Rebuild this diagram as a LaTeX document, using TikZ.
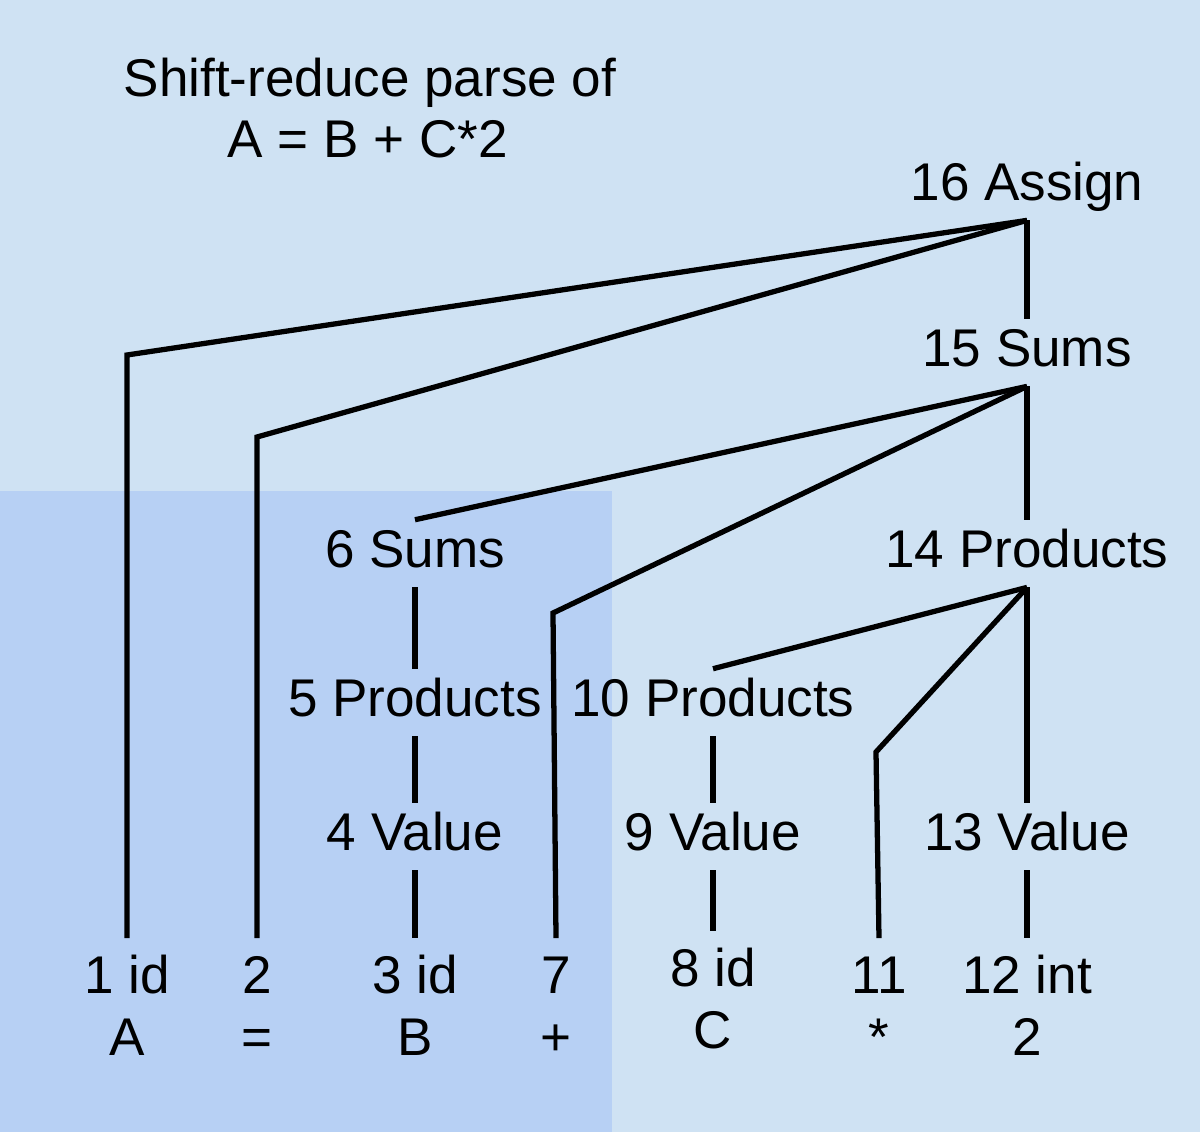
\documentclass[tikz,border=0pt]{standalone}
\usepackage{fontspec}
\setmainfont{Liberation Sans}
\usepackage{xcolor}
\definecolor{srlight}{RGB}{207,226,243}
\definecolor{srdark}{RGB}{183,208,244}
\usepackage{tikz}
\usetikzlibrary{positioning}

\begin{document}
\begin{tikzpicture}[x=0.02cm, y=-0.02cm,
    lbl/.style={anchor=base, font=\fontsize{30.2}{36}\selectfont, inner xsep=2pt,
                inner ysep=5.7pt, text height=21pt, text depth=5.7pt},
    leaf/.style={lbl, inner ysep=10pt},
    edge/.style={line width=3pt, line join=miter}]

% === Background ===
\fill[srlight] (0,0) rectangle (1200,1132);
\fill[srdark] (0,491) rectangle (612,1132);

% === Title ===
\node[lbl] (title1) at (370,97) {Shift-reduce parse of};
\node[lbl] (title2) at (368,157) {A = B + C*2};

% === Inner nodes ===
\node[lbl] (assign16) at (1027,200) {16 Assign};
\node[lbl] (sums15)   at (1027,366) {15 Sums};
\node[lbl] (prod14)   at (1027,567) {14 Products};
\node[lbl] (sums6)    at (415,567)  {6 Sums};
\node[lbl] (prod5)    at (415,716)  {5 Products};
\node[lbl] (prod10)   at (713,716)  {10 Products};
\node[lbl] (val4)     at (415,850)  {4 Value};
\node[lbl] (val9)     at (713,850)  {9 Value};
\node[lbl] (val13)    at (1027,850) {13 Value};

% === Leaves (tokens) ===
\node[leaf] (id1)    at (127,993)  {1 id};
\node[lbl]  (tokA)   at (127,1055) {A};
\node[leaf] (eq2)    at (257,993)  {2};
\node[lbl]  (tokEq)  at (257,1055) {=};
\node[leaf] (id3)    at (415,993)  {3 id};
\node[lbl]  (tokB)   at (415,1055) {B};
\node[leaf] (plus7)  at (556,993)  {7};
\node[lbl]  (tokPl)  at (556,1055) {+};
\node[leaf] (id8)    at (713,986)  {8 id};
\node[lbl]  (tokC)   at (713,1048) {C};
\node[leaf] (star11) at (879,993)  {11};
\node[lbl]  (tokSt)  at (879,1055) {*};
\node[leaf] (int12)  at (1027,993) {12 int};
\node[lbl]  (tok2)   at (1027,1055) {2};

% === Bends ===
\coordinate (bendA)  at (127,355);
\coordinate (bendEq) at (257,437);
\coordinate (bendPl) at (553,613);
\coordinate (bendSt) at (876,752);

% === Edges ===
\draw[edge] (assign16.south) -- (bendA) -- (id1.north);
\draw[edge] (assign16.south) -- (bendEq) -- (eq2.north);
\draw[edge] (assign16.south) -- (sums15.north);
\draw[edge] (sums15.south) -- (sums6.north);
\draw[edge] (sums15.south) -- (bendPl) -- (plus7.north);
\draw[edge] (sums15.south) -- (prod14.north);
\draw[edge] (sums6.south) -- (prod5.north);
\draw[edge] (prod5.south) -- (val4.north);
\draw[edge] (val4.south) -- (id3.north);
\draw[edge] (prod14.south) -- (prod10.north);
\draw[edge] (prod14.south) -- (bendSt) -- (star11.north);
\draw[edge] (prod14.south) -- (val13.north);
\draw[edge] (prod10.south) -- (val9.north);
\draw[edge] (val9.south) -- (id8.north);
\draw[edge] (val13.south) -- (int12.north);

\end{tikzpicture}
\end{document}
